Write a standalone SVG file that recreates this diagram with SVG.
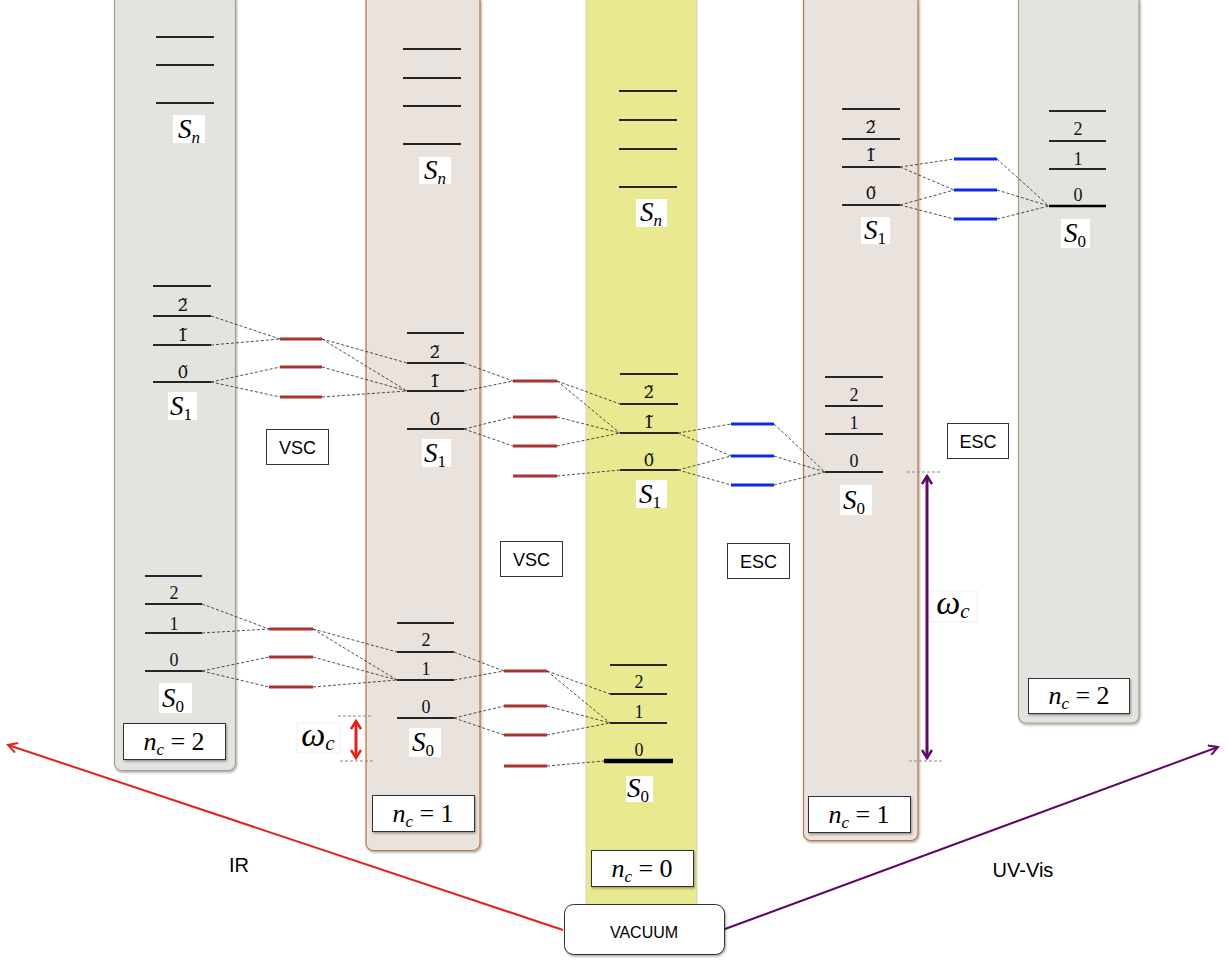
<svg xmlns="http://www.w3.org/2000/svg" width="1228" height="961" viewBox="0 0 1228 961">
<defs>
<filter id="sh" x="-10%" y="-10%" width="130%" height="130%"><feDropShadow dx="1" dy="1.5" stdDeviation="1" flood-color="#000" flood-opacity="0.35"/></filter>
<marker id="ahR" viewBox="0 0 12 12" refX="10" refY="6" markerWidth="12" markerHeight="12" markerUnits="userSpaceOnUse" orient="auto-start-reverse"><path d="M1,1 L10,6 L1,11" fill="none" stroke="#e8201a" stroke-width="2"/></marker>
<marker id="ahP" viewBox="0 0 12 12" refX="10" refY="6" markerWidth="12" markerHeight="12" markerUnits="userSpaceOnUse" orient="auto-start-reverse"><path d="M1,1 L10,6 L1,11" fill="none" stroke="#5e0a66" stroke-width="2"/></marker>
<marker id="dhR" viewBox="0 0 12 12" refX="10" refY="6" markerWidth="12" markerHeight="12" markerUnits="userSpaceOnUse" orient="auto-start-reverse"><path d="M2,1 L10,6 L2,11" fill="none" stroke="#e8201a" stroke-width="2.5"/></marker>
<marker id="dhP" viewBox="0 0 12 12" refX="10" refY="6" markerWidth="12" markerHeight="12" markerUnits="userSpaceOnUse" orient="auto-start-reverse"><path d="M2,1 L10,6 L2,11" fill="none" stroke="#5e0a66" stroke-width="2.5"/></marker>
</defs>
<style>
.colG{fill:#e3e4df;stroke:#9ba38c;stroke-width:1.2}
.colB{fill:#e9e2dd;stroke:#b8764a;stroke-width:1.2}
.colY{fill:#e9e991;stroke:#d4d4c4;stroke-width:1}
.lv{stroke:#262626;stroke-width:2.2}
.rd{stroke:#a83434;stroke-width:3}
.bl{stroke:#1028e6;stroke-width:3}
.dc{stroke:#222;stroke-width:0.8;stroke-dasharray:3 2;fill:none}
.gd{stroke:#8a8a8a;stroke-width:1;stroke-dasharray:3 2}
.num{font-family:"Liberation Serif",serif;font-size:18px;fill:#111;text-anchor:middle}
.tnum{font-family:"DejaVu Serif",serif;font-size:17px;fill:#111;text-anchor:middle}
.lbb{fill:#fff;stroke:none}
.S{font-family:"Liberation Serif",serif;font-size:27px;fill:#000;text-anchor:middle}
.it{font-style:italic}
.sub{font-style:normal;font-size:17px}
.subi{font-style:italic;font-size:17px}
.box{fill:#fff;stroke:#333;stroke-width:1}
.nc{font-family:"Liberation Serif",serif;font-size:26px;fill:#000;text-anchor:middle}
.tag{font-family:"Liberation Sans",Arial,sans-serif;font-size:18px;fill:#000;text-anchor:middle}
</style>
<rect width="1228" height="961" fill="#fff"/>

<!-- Column 1: n_c = 2 (left) -->
<g id="col1">
<rect class="colG" x="114.5" y="-6" width="121" height="776.5" rx="7" filter="url(#sh)"/>
<line class="lv" x1="156" y1="37" x2="214" y2="37"/>
<line class="lv" x1="156" y1="65" x2="214" y2="65"/>
<line class="lv" x1="156" y1="103" x2="214" y2="103"/>
<rect class="lbb" x="173" y="115" width="32" height="28"/>
<text class="S" x="189" y="138"><tspan class="it">S</tspan><tspan class="subi" dy="5">n</tspan></text>
<line class="lv" x1="153" y1="286" x2="211" y2="286"/>
<line class="lv" x1="153" y1="316" x2="211" y2="316"/>
<line class="lv" x1="153" y1="345" x2="211" y2="345"/>
<line class="lv" x1="153" y1="382" x2="211" y2="382"/>
<text class="tnum" x="183" y="311">2&#x303;</text>
<text class="tnum" x="183" y="341">1&#x303;</text>
<text class="tnum" x="183" y="378">0&#x303;</text>
<rect class="lbb" x="168" y="392" width="29" height="28"/>
<text class="S" x="181" y="415"><tspan class="it">S</tspan><tspan class="sub" dy="5">1</tspan></text>
<line class="lv" x1="145" y1="576" x2="202" y2="576"/>
<line class="lv" x1="145" y1="604" x2="202" y2="604"/>
<line class="lv" x1="145" y1="633" x2="202" y2="633"/>
<line class="lv" x1="145" y1="671" x2="202" y2="671"/>
<text class="num" x="174" y="599">2</text>
<text class="num" x="174" y="630">1</text>
<text class="num" x="174" y="666">0</text>
<rect class="lbb" x="159" y="683" width="33" height="30"/>
<text class="S" x="173" y="707"><tspan class="it">S</tspan><tspan class="sub" dy="5">0</tspan></text>
<rect class="box" x="123.5" y="723.5" width="102" height="36" filter="url(#sh)"/>
<text class="nc" x="174" y="750"><tspan class="it">n</tspan><tspan class="it" font-size="17" dy="5">c</tspan><tspan dy="-5"> = 2</tspan></text>
</g>

<!-- Column 2: n_c = 1 (left) -->
<g id="col2">
<rect class="colB" x="366" y="-6" width="114" height="856.5" rx="7" filter="url(#sh)"/>
<line class="lv" x1="403" y1="49" x2="461" y2="49"/>
<line class="lv" x1="403" y1="78" x2="461" y2="78"/>
<line class="lv" x1="403" y1="106" x2="461" y2="106"/>
<line class="lv" x1="403" y1="144" x2="461" y2="144"/>
<rect class="lbb" x="419" y="157" width="32" height="27"/>
<text class="S" x="435" y="179"><tspan class="it">S</tspan><tspan class="subi" dy="5">n</tspan></text>
<line class="lv" x1="407" y1="333" x2="464" y2="333"/>
<line class="lv" x1="407" y1="363" x2="464" y2="363"/>
<line class="lv" x1="407" y1="391" x2="464" y2="391"/>
<line class="lv" x1="407" y1="429" x2="464" y2="429"/>
<text class="tnum" x="435" y="358">2&#x303;</text>
<text class="tnum" x="435" y="387">1&#x303;</text>
<text class="tnum" x="435" y="425">0&#x303;</text>
<rect class="lbb" x="422" y="439" width="29" height="28"/>
<text class="S" x="435" y="462"><tspan class="it">S</tspan><tspan class="sub" dy="5">1</tspan></text>
<line class="lv" x1="397" y1="623" x2="454" y2="623"/>
<line class="lv" x1="397" y1="652" x2="454" y2="652"/>
<line class="lv" x1="397" y1="680" x2="454" y2="680"/>
<line class="lv" x1="397" y1="718" x2="454" y2="718"/>
<text class="num" x="426" y="646">2</text>
<text class="num" x="426" y="675">1</text>
<text class="num" x="426" y="713">0</text>
<rect class="lbb" x="409" y="728" width="32" height="29"/>
<text class="S" x="423" y="751"><tspan class="it">S</tspan><tspan class="sub" dy="5">0</tspan></text>
<rect class="box" x="372.5" y="795.5" width="102" height="36" filter="url(#sh)"/>
<text class="nc" x="423" y="822"><tspan class="it">n</tspan><tspan class="it" font-size="17" dy="5">c</tspan><tspan dy="-5"> = 1</tspan></text>
</g>

<!-- Column 3: n_c = 0 (vacuum) -->
<g id="col3">
<rect class="colY" x="586" y="-6" width="111" height="912" rx="3"/>
<line class="lv" x1="619" y1="91" x2="677" y2="91"/>
<line class="lv" x1="619" y1="120" x2="677" y2="120"/>
<line class="lv" x1="619" y1="149" x2="677" y2="149"/>
<line class="lv" x1="619" y1="187" x2="677" y2="187"/>
<rect class="lbb" x="636" y="199" width="31" height="28"/>
<text class="S" x="651" y="221"><tspan class="it">S</tspan><tspan class="subi" dy="5">n</tspan></text>
<line class="lv" x1="620" y1="374" x2="678" y2="374"/>
<line class="lv" x1="620" y1="404" x2="678" y2="404"/>
<line class="lv" x1="620" y1="433" x2="678" y2="433"/>
<line class="lv" x1="620" y1="470" x2="678" y2="470"/>
<text class="tnum" x="649" y="398">2&#x303;</text>
<text class="tnum" x="649" y="428">1&#x303;</text>
<text class="tnum" x="649" y="466">0&#x303;</text>
<rect class="lbb" x="636" y="480" width="31" height="28"/>
<text class="S" x="650" y="503"><tspan class="it">S</tspan><tspan class="sub" dy="5">1</tspan></text>
<line class="lv" x1="610" y1="665" x2="667" y2="665"/>
<line class="lv" x1="610" y1="694" x2="667" y2="694"/>
<line class="lv" x1="610" y1="723" x2="667" y2="723"/>
<line x1="604" y1="761" x2="673" y2="761" stroke="#000" stroke-width="4.5"/>
<text class="num" x="639" y="688">2</text>
<text class="num" x="639" y="718">1</text>
<text class="num" x="639" y="756">0</text>
<rect class="lbb" x="626" y="776" width="27" height="26"/>
<text class="S" x="638" y="797"><tspan class="it">S</tspan><tspan class="sub" dy="5">0</tspan></text>
<rect class="box" x="591.5" y="850.5" width="102" height="36" filter="url(#sh)"/>
<text class="nc" x="642" y="877"><tspan class="it">n</tspan><tspan class="it" font-size="17" dy="5">c</tspan><tspan dy="-5"> = 0</tspan></text>
</g>

<!-- Column 4: n_c = 1 (right) -->
<g id="col4">
<rect class="colB" x="803.5" y="-6" width="114.5" height="846.5" rx="7" filter="url(#sh)"/>
<line class="lv" x1="842" y1="109" x2="900" y2="109"/>
<line class="lv" x1="842" y1="139" x2="900" y2="139"/>
<line class="lv" x1="842" y1="167" x2="900" y2="167"/>
<line class="lv" x1="842" y1="205" x2="900" y2="205"/>
<text class="tnum" x="871" y="133">2&#x303;</text>
<text class="tnum" x="871" y="161">1&#x303;</text>
<text class="tnum" x="871" y="199">0&#x303;</text>
<rect class="lbb" x="861" y="217" width="29" height="27"/>
<text class="S" x="875" y="239"><tspan class="it">S</tspan><tspan class="sub" dy="5">1</tspan></text>
<line class="lv" x1="825" y1="377" x2="883" y2="377"/>
<line class="lv" x1="825" y1="406" x2="883" y2="406"/>
<line class="lv" x1="825" y1="434" x2="883" y2="434"/>
<line class="lv" x1="825" y1="472" x2="883" y2="472"/>
<text class="num" x="854" y="401">2</text>
<text class="num" x="854" y="429">1</text>
<text class="num" x="854" y="467">0</text>
<rect class="lbb" x="840" y="485" width="32" height="30"/>
<text class="S" x="854" y="509"><tspan class="it">S</tspan><tspan class="sub" dy="5">0</tspan></text>
<rect class="box" x="808.5" y="796.5" width="102" height="36" filter="url(#sh)"/>
<text class="nc" x="859" y="823"><tspan class="it">n</tspan><tspan class="it" font-size="17" dy="5">c</tspan><tspan dy="-5"> = 1</tspan></text>
</g>

<!-- Column 5: n_c = 2 (right) -->
<g id="col5">
<rect class="colG" x="1018.5" y="-6" width="120.5" height="729" rx="7" filter="url(#sh)"/>
<line class="lv" x1="1049" y1="111" x2="1106" y2="111"/>
<line class="lv" x1="1049" y1="141" x2="1106" y2="141"/>
<line class="lv" x1="1049" y1="169" x2="1106" y2="169"/>
<line x1="1049" y1="206" x2="1106" y2="206" stroke="#000" stroke-width="2.4"/>
<text class="num" x="1078" y="135">2</text>
<text class="num" x="1078" y="165">1</text>
<text class="num" x="1078" y="201">0</text>
<rect class="lbb" x="1061" y="219" width="29" height="29"/>
<text class="S" x="1075" y="242"><tspan class="it">S</tspan><tspan class="sub" dy="5">0</tspan></text>
<rect class="box" x="1028.5" y="678.5" width="101" height="35" filter="url(#sh)"/>
<text class="nc" x="1079" y="704"><tspan class="it">n</tspan><tspan class="it" font-size="17" dy="5">c</tspan><tspan dy="-5"> = 2</tspan></text>
</g>

<!-- Polariton (hybrid) levels -->
<g id="hybrid-levels">
<line class="rd" x1="280" y1="339" x2="322" y2="339"/>
<line class="rd" x1="280" y1="367" x2="322" y2="367"/>
<line class="rd" x1="280" y1="397" x2="322" y2="397"/>
<line class="rd" x1="513" y1="381" x2="557" y2="381"/>
<line class="rd" x1="513" y1="417" x2="557" y2="417"/>
<line class="rd" x1="513" y1="446" x2="557" y2="446"/>
<line class="rd" x1="513" y1="476" x2="557" y2="476"/>
<line class="rd" x1="269" y1="629" x2="313" y2="629"/>
<line class="rd" x1="269" y1="657" x2="313" y2="657"/>
<line class="rd" x1="269" y1="687" x2="313" y2="687"/>
<line class="rd" x1="504" y1="671" x2="547" y2="671"/>
<line class="rd" x1="504" y1="706" x2="547" y2="706"/>
<line class="rd" x1="504" y1="735" x2="547" y2="735"/>
<line class="rd" x1="504" y1="766" x2="547" y2="766"/>
<line class="bl" x1="731" y1="424" x2="774" y2="424"/>
<line class="bl" x1="731" y1="456" x2="774" y2="456"/>
<line class="bl" x1="731" y1="485" x2="774" y2="485"/>
<line class="bl" x1="954" y1="159" x2="997" y2="159"/>
<line class="bl" x1="954" y1="190" x2="997" y2="190"/>
<line class="bl" x1="954" y1="219" x2="997" y2="219"/>
</g>

<!-- Connectors -->
<g id="connectors">
<path class="dc" d="M211,316 L280,339 M211,345 L280,339 M211,382 L280,367 M211,382 L280,397"/>
<path class="dc" d="M322,339 L407,363 M322,339 L407,391 M322,367 L407,391 M322,397 L407,391"/>
<path class="dc" d="M464,363 L513,381 M464,391 L513,381 M464,429 L513,417 M464,429 L513,446"/>
<path class="dc" d="M557,381 L620,404 M557,381 L620,433 M557,417 L620,433 M557,446 L620,433 M557,476 L620,470"/>
<path class="dc" d="M678,433 L731,424 M678,433 L731,456 M678,470 L731,456 M678,470 L731,485"/>
<path class="dc" d="M774,424 L825,472 M774,456 L825,472 M774,485 L825,472"/>
<path class="dc" d="M900,167 L954,159 M900,167 L954,190 M900,205 L954,190 M900,205 L954,219"/>
<path class="dc" d="M997,159 L1049,206 M997,190 L1049,206 M997,219 L1049,206"/>
<path class="dc" d="M202,604 L269,629 M202,633 L269,629 M202,671 L269,657 M202,671 L269,687"/>
<path class="dc" d="M313,629 L397,652 M313,629 L397,680 M313,657 L397,680 M313,687 L397,680"/>
<path class="dc" d="M454,652 L504,671 M454,680 L504,671 M454,718 L504,706 M454,718 L504,735"/>
<path class="dc" d="M547,671 L610,694 M547,671 L610,723 M547,706 L610,723 M547,735 L610,723 M547,766 L604,761"/>
<line class="gd" x1="338" y1="716" x2="372" y2="716"/>
<line class="gd" x1="340" y1="761" x2="373" y2="761"/>
<line class="gd" x1="907" y1="472" x2="942" y2="472"/>
<line class="gd" x1="909" y1="761" x2="942" y2="761"/>
<line x1="356" y1="721" x2="356" y2="758" stroke="#e8201a" stroke-width="3" marker-start="url(#dhR)" marker-end="url(#dhR)"/>
<line x1="927" y1="476" x2="927" y2="758" stroke="#5e0a66" stroke-width="3" marker-start="url(#dhP)" marker-end="url(#dhP)"/>
<line x1="563" y1="930" x2="8" y2="745" stroke="#e8201a" stroke-width="2" marker-end="url(#ahR)"/>
<line x1="725" y1="929" x2="1218" y2="747" stroke="#5e0a66" stroke-width="2" marker-end="url(#ahP)"/>
</g>

<!-- Labels -->
<g id="labels">
<rect class="box" x="266.5" y="429.5" width="62" height="35"/>
<text class="tag" x="297.5" y="454">VSC</text>
<rect class="box" x="500.5" y="541.5" width="62" height="35"/>
<text class="tag" x="531.5" y="566">VSC</text>
<rect class="box" x="727.5" y="543.5" width="62" height="35"/>
<text class="tag" x="758.5" y="568">ESC</text>
<rect class="box" x="947.5" y="423.5" width="61" height="35"/>
<text class="tag" x="978" y="448">ESC</text>
<rect x="297" y="723" width="43" height="30" fill="#fff" stroke="#ddd" stroke-width="0.5"/>
<text x="318" y="746" font-family="Liberation Serif,serif" font-size="34" font-style="italic" text-anchor="middle">ω<tspan font-size="21" dy="4">c</tspan></text>
<rect x="930" y="591" width="47" height="31" fill="#fff" stroke="#ddd" stroke-width="0.5"/>
<text x="953" y="614" font-family="Liberation Serif,serif" font-size="34" font-style="italic" text-anchor="middle">ω<tspan font-size="21" dy="4">c</tspan></text>
<text x="239" y="872" font-family="Liberation Sans,Arial,sans-serif" font-size="20" text-anchor="middle">IR</text>
<text x="1023" y="877" font-family="Liberation Sans,Arial,sans-serif" font-size="20" text-anchor="middle">UV-Vis</text>
</g>

<g id="vacuum">
<rect x="564.5" y="904.5" width="160" height="50" rx="9" fill="#fff" stroke="#333" stroke-width="1" filter="url(#sh)"/>
<text x="644" y="938" font-family="Liberation Sans,Arial,sans-serif" font-size="16" text-anchor="middle">VACUUM</text>
</g>
</svg>
